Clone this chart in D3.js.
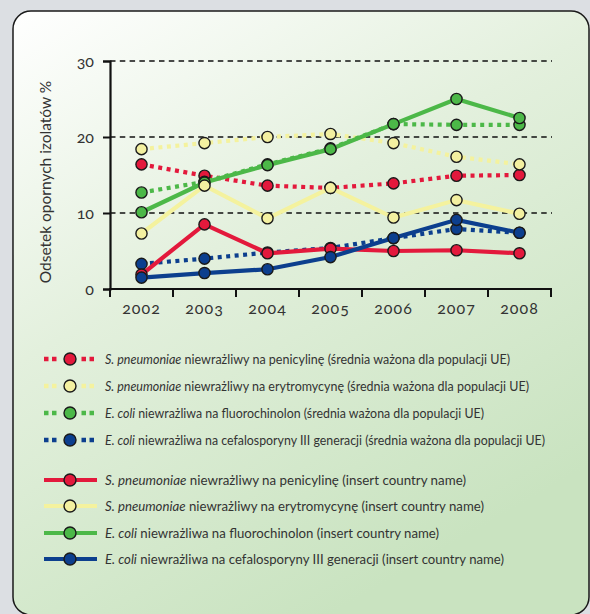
<!DOCTYPE html>
<html lang="pl">
<head>
<meta charset="utf-8">
<title>Odsetek opornych izolatów</title>
<script src="https://d3js.org/d3.v7.min.js"></script>
<style>
  body { margin: 0; background: #dcdfe3; }
  svg { display: block; font-family: Lato, "Open Sans", sans-serif; }
  .num { font-feature-settings: "onum" 1; }
</style>
</head>
<body>
<script>
// dane
var lata = ["2002", "2003", "2004", "2005", "2006", "2007", "2008"];
var yTicks = [0, 10, 20, 30];

// srednia wazona UE (linie kropkowane)
var ueStrepPen = [16.4, 14.9, 13.6, 13.3, 13.9, 14.9, 15.0];
var ueStrepEry = [18.4, 19.2, 20.0, 20.4, 19.2, 17.4, 16.4];
var ueEcoliFq  = [12.7, 14.1, 16.4, 18.5, 21.7, 21.6, 21.6];
var ueEcoliCef = [3.3, 4.0, 4.8, 5.4, 6.7, 7.9, 7.4];

// kraj (linie ciagle)
var krStrepPen = [1.9, 8.5, 4.7, 5.3, 5.0, 5.1, 4.7];
var krStrepEry = [7.3, 13.6, 9.3, 13.3, 9.4, 11.7, 9.9];
var krEcoliFq  = [10.1, 14.0, 16.3, 18.4, 21.7, 25.0, 22.5];
var krEcoliCef = [1.5, 2.1, 2.6, 4.2, 6.7, 9.1, 7.4];

var legendy = [
  ["S. pneumoniae", " niewrażliwy na penicylinę (średnia ważona dla populacji UE)"],
  ["S. pneumoniae", " niewrażliwy na erytromycynę (średnia ważona dla populacji UE)"],
  ["E. coli", " niewrażliwa na fluorochinolon (średnia ważona dla populacji UE)"],
  ["E. coli", " niewrażliwa na cefalosporyny III generacji (średnia ważona dla populacji UE)"],
  ["S. pneumoniae", " niewrażliwy na penicylinę (insert country name)"],
  ["S. pneumoniae", " niewrażliwy na erytromycynę (insert country name)"],
  ["E. coli", " niewrażliwa na fluorochinolon (insert country name)"],
  ["E. coli", " niewrażliwa na cefalosporyny III generacji (insert country name)"]
];

var kolory = { red: "#e3193c", yellow: "#f3f0a0", green: "#4cb848", blue: "#0c3f8e" };
var linieKolory = { red: "#e3193c", yellow: "#f4f29e", green: "#4cb848", blue: "#0c3f8e" };

var serie = [
  { v: ueStrepPen, c: "red", dot: true, leg: 0 },
  { v: ueStrepEry, c: "yellow", dot: true, leg: 1 },
  { v: ueEcoliFq, c: "green", dot: true, leg: 2 },
  { v: ueEcoliCef, c: "blue", dot: true, leg: 3 },
  { v: krStrepPen, c: "red", dot: false, leg: 4 },
  { v: krEcoliFq, c: "green", dot: false, leg: 6 },
  { v: krStrepEry, c: "yellow", dot: false, leg: 5 },
  { v: krEcoliCef, c: "blue", dot: false, leg: 7 }
];

var width = 590, height = 614;
var svg = d3.select("body").append("svg")
  .attr("width", width)
  .attr("height", height);

var defs = svg.append("defs");
var grad = defs.append("linearGradient").attr("id", "tlo")
  .attr("x1", 0).attr("y1", 0).attr("x2", 0.55).attr("y2", 1);
grad.append("stop").attr("offset", 0).attr("stop-color", "#ffffff");
grad.append("stop").attr("offset", 0.45).attr("stop-color", "#e3f0dd");
grad.append("stop").attr("offset", 1).attr("stop-color", "#c9e3c0");

svg.append("rect")
  .attr("x", 13).attr("y", 11)
  .attr("width", 576).attr("height", 604)
  .attr("rx", 18)
  .attr("fill", "url(#tlo)")
  .attr("stroke", "#1a1a1a")
  .attr("stroke-width", 1.5);

var x = d3.scaleBand().domain(lata).range([110, 551]);
var y = d3.scaleLinear().domain([0, 30]).range([289, 61]);

// linie siatki
svg.selectAll(".siatka").data(yTicks.filter(function(d){ return d > 0; }))
  .enter().append("line")
  .attr("x1", 110).attr("x2", 552)
  .attr("y1", function(d){ return y(d); })
  .attr("y2", function(d){ return y(d); })
  .attr("stroke", "#111")
  .attr("stroke-width", 1.5)
  .attr("stroke-dasharray", "5.5,4.3");

// os y
var osY = svg.append("g").attr("transform", "translate(110,0)")
  .call(d3.axisLeft(y).tickValues(yTicks).tickSize(7).tickPadding(9));
osY.select(".domain").attr("stroke", "#111").attr("stroke-width", 2.2);
osY.selectAll(".tick line").attr("stroke", "#111").attr("stroke-width", 2);
osY.selectAll(".tick text").attr("class", "num")
  .attr("font-size", 16).attr("fill", "#333").attr("font-family", "Lato, sans-serif");

// os x
var osX = svg.append("g").attr("transform", "translate(0,289)")
  .call(d3.axisBottom(x).tickSize(0).tickPadding(14));
osX.select(".domain").remove();
osX.selectAll(".tick text").attr("class", "num")
  .attr("font-size", 16).attr("fill", "#333").attr("font-family", "Lato, sans-serif")
  .attr("letter-spacing", 1);
svg.append("line")
  .attr("x1", x.range()[0] - 1).attr("x2", x.range()[1] + 1)
  .attr("y1", 289).attr("y2", 289)
  .attr("stroke", "#111").attr("stroke-width", 2.2);
var granice = lata.map(function(d){ return x(d); }).concat([x.range()[1]]);
svg.selectAll(".xkreska").data(granice).enter().append("line")
  .attr("x1", function(d){ return d; }).attr("x2", function(d){ return d; })
  .attr("y1", 289).attr("y2", 297)
  .attr("stroke", "#111").attr("stroke-width", 2);

svg.append("text")
  .attr("transform", "translate(51,182) rotate(-90)")
  .attr("text-anchor", "middle")
  .attr("font-size", 15.5)
  .attr("fill", "#333")
  .text("Odsetek opornych izolatów %");

var cx = function(d, i){ return x(lata[i]) + x.bandwidth() / 2; };
var linia = d3.line()
  .x(function(d, i){ return x(lata[i]) + x.bandwidth() / 2; })
  .y(function(d){ return y(d); });

serie.forEach(function(s) {
  svg.append("path")
    .attr("d", linia(s.v))
    .attr("fill", "none")
    .attr("stroke", linieKolory[s.c])
    .attr("stroke-width", 4.2)
    .attr("stroke-dasharray", s.dot ? "4,4.5" : null);
  svg.selectAll(null).data(s.v).enter().append("circle")
    .attr("cx", cx)
    .attr("cy", function(d){ return y(d); })
    .attr("r", 5.6)
    .attr("fill", kolory[s.c])
    .attr("stroke", "#1a1a1a")
    .attr("stroke-width", 1.4);
});

// legenda
var legY = [359, 386, 413, 440, 480, 506, 533, 559];
var legKolor = ["red", "yellow", "green", "blue", "red", "yellow", "green", "blue"];
var legSzer = [405, 424, 379, 440, 361, 379, 334, 399];
var lg = svg.selectAll(".leg").data(legendy).enter().append("g")
  .attr("transform", function(d, i){ return "translate(0," + legY[i] + ")"; });

lg.append("line")
  .attr("x1", 44).attr("x2", 97).attr("y1", 0).attr("y2", 0)
  .attr("stroke", function(d, i){ return linieKolory[legKolor[i]]; })
  .attr("stroke-width", function(d, i){ return i < 4 ? 4.5 : 4.2; })
  .attr("stroke-dasharray", function(d, i){ return i < 4 ? "4.5,3.5,4.5,25,4.5,3.5,4.5" : null; });
lg.append("circle")
  .attr("cx", 70).attr("cy", 0).attr("r", 6)
  .attr("fill", function(d, i){ return kolory[legKolor[i]]; })
  .attr("stroke", "#1a1a1a").attr("stroke-width", 1.4);

var lt = lg.append("text")
  .attr("x", 105).attr("y", 4.5)
  .attr("font-size", 13)
  .attr("fill", "#333")
  .attr("textLength", function(d, i){ return legSzer[i]; })
  .attr("lengthAdjust", "spacingAndGlyphs");
lt.append("tspan").attr("font-style", "italic").text(function(d){ return d[0]; });
lt.append("tspan").text(function(d){ return d[1]; });
</script>
</body>
</html>
